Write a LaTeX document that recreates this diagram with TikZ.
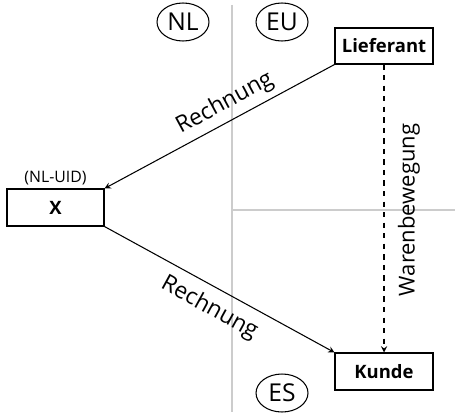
\documentclass[tikz,border=0pt]{standalone}
\usepackage{fontspec}
\setmainfont{Open Sans}
\usetikzlibrary{shapes.geometric, arrows, positioning}

\begin{document}
\begin{tikzpicture}[
    x=0.02cm, y=-0.02cm,
    box/.style={rectangle, draw, line width=0.6pt, inner sep=0pt, minimum width=1.96cm, minimum height=0.72cm, font=\fontsize{10.5}{12}\selectfont\bfseries},
    region/.style={ellipse, draw, line width=0.6pt, inner sep=0pt, minimum width=1.04cm, minimum height=0.76cm, font=\fontsize{14}{16}\selectfont},
    arrow/.style={->, >=stealth, line width=0.6pt},
    dasharrow/.style={->, >=stealth, dashed, line width=0.6pt},
    label/.style={font=\fontsize{13}{15}\selectfont},
    border/.style={draw=gray!40, line width=0.8pt},
  ]

  \useasboundingbox (0,0) rectangle (455,412);

  % Grenzen
  \coordinate (top) at (232,5);
  \coordinate (bottom) at (232,412);
  \coordinate (mid) at (232,210);
  \coordinate (right) at (455,210);
  \draw[border] (top) -- (bottom);
  \draw[border] (mid) -- (right);

  \node[region] (nl) at (183,22) {NL};
  \node[region] (eu) at (282,22) {EU};
  \node[region] (es) at (282,393) {ES};

  \node[box] (lieferant) at (384,46) {Lieferant};
  \node[box, minimum width=1.94cm, minimum height=0.74cm] (x) at (55.5,207.5) {X};
  \node[box, minimum height=0.74cm] (kunde) at (384,371.5) {Kunde};
  \node[font=\fontsize{9}{11}\selectfont, above=0pt of x, inner sep=1.5pt] (uid) {(NL-UID)};

  \draw[arrow] (lieferant.south west) -- (x.north east) node[label, sloped, above, pos=0.44] {Rechnung};
  \draw[arrow] (x.south east) -- (kunde.north west) node[label, sloped, below=2pt, pos=0.5] {Rechnung};
  \draw[dasharrow] (lieferant.south) -- (kunde.north);

  \node[label, font=\fontsize{12.5}{15}\selectfont, rotate=90] (waren) at (409,210) {Warenbewegung};

\end{tikzpicture}
\end{document}
